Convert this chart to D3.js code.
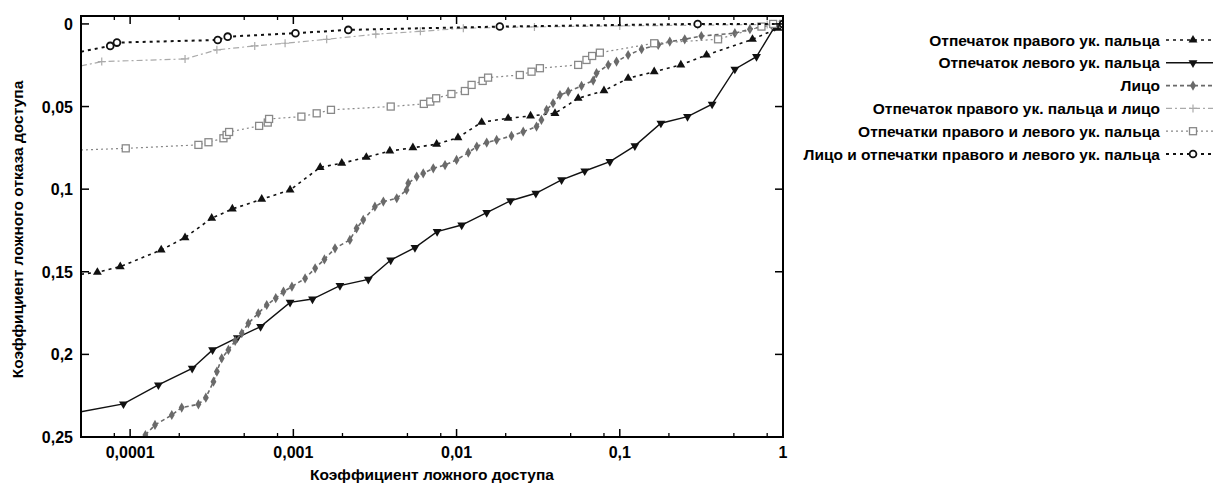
<!DOCTYPE html>
<html>
<head>
<meta charset="utf-8">
<script src="https://d3js.org/d3.v7.min.js"></script>
<style>
  body { margin: 0; background: #fff; }
  svg { font-family: 'Liberation Sans', Arial, sans-serif; font-weight: bold; }
</style>
</head>
<body>
<div id="chart"></div>
<script>
// x: коэффициент ложного доступа, y: коэффициент ложного отказа доступа
var rightFinger = [[5e-5,0.1515],[6.3e-5,0.1503],[8.7e-5,0.1469],[1.55e-4,0.1368],[2.17e-4,0.1293],[3.16e-4,0.1176],
  [4.23e-4,0.112],[6.4e-4,0.1061],[9.55e-4,0.1005],[1.46e-3,0.0868],[1.98e-3,0.0843],[2.8e-3,0.0807],[3.9e-3,0.0769],
  [5.4e-3,0.0749],[7.55e-3,0.0728],[0.0102,0.0688],[0.01425,0.0595],[0.0207,0.0571],[0.0284,0.0557],[0.0401,0.0541],
  [0.0556,0.045],[0.08,0.0404],[0.1125,0.0329],[0.1625,0.0289],[0.2367,0.0248],[0.34,0.0188],[0.65,0.0093],[0.933,0.0026],[1,0]];
var leftFinger = [[5e-5,0.2347],[9.1e-5,0.230],[1.49e-4,0.2185],[2.4e-4,0.2085],[3.2e-4,0.1973],[4.54e-4,0.1899],
  [6.3e-4,0.1832],[9.55e-4,0.1685],[1.31e-3,0.1665],[1.93e-3,0.1584],[2.88e-3,0.1546],[3.95e-3,0.1429],[5.56e-3,0.1354],
  [7.6e-3,0.1257],[0.01075,0.1217],[0.0153,0.1142],[0.0214,0.107],[0.0306,0.1025],[0.044,0.0944],[0.061,0.089],
  [0.087,0.0833],[0.1237,0.0738],[0.1786,0.0601],[0.26,0.0561],[0.368,0.0486],[0.507,0.0274],[0.688,0.0198],[0.89,0.0016],[1,0]];
var face = [[1.18e-4,0.2525],[1.24e-4,0.2488],[1.42e-4,0.2427],[1.8e-4,0.2367],[2.07e-4,0.2322],[2.62e-4,0.2302],[2.91e-4,0.2262],
  [3.24e-4,0.2165],[3.4e-4,0.2104],[3.64e-4,0.2024],[4.0e-4,0.1973],[4.4e-4,0.1919],[4.83e-4,0.1872],[5.3e-4,0.1812],
  [6.1e-4,0.1751],[6.87e-4,0.1701],[7.8e-4,0.166],[8.7e-4,0.162],[9.8e-4,0.159],[1.18e-3,0.154],[1.36e-3,0.1479],[1.55e-3,0.1425],
  [1.8e-3,0.1358],[2.22e-3,0.1307],[2.44e-3,0.1237],[2.68e-3,0.1186],[3.16e-3,0.1106],[3.56e-3,0.1075],[4.3e-3,0.1055],
  [4.94e-3,0.1005],[5.06e-3,0.0964],[5.7e-3,0.0924],[6.25e-3,0.0904],[7.2e-3,0.0874],[8.5e-3,0.0854],[0.01,0.0823],
  [0.0118,0.0779],[0.0133,0.0742],[0.0153,0.0718],[0.0176,0.0702],[0.0217,0.0678],[0.0256,0.0652],[0.0309,0.0621],
  [0.0331,0.0581],[0.0356,0.052],[0.039,0.048],[0.043,0.043],[0.0483,0.041],[0.0583,0.0375],[0.0687,0.0343],[0.072,0.0298],
  [0.085,0.0248],[0.0955,0.0228],[0.1125,0.0188],[0.136,0.0153],[0.172,0.0127],[0.2025,0.0107],[0.25,0.0093],[0.316,0.0073],
  [0.507,0.0056],[0.627,0.0032],[0.85,0.0006],[1,0]];
var rightFingerFace = [[5e-5,0.0254],[6.7e-5,0.0228],[2.17e-4,0.0212],[3.4e-4,0.0157],[5.8e-4,0.0133],[8.9e-4,0.0117],
  [1.6e-3,0.0093],[3.2e-3,0.0062],[6e-3,0.0045],[0.011,0.0026],[0.03,0.0018],[0.1,0.0012],[0.3,0.0008],[0.8,0.0003],[1,0]];
var bothFingers = [[5e-5,0.0763],[9.4e-5,0.0753],[2.62e-4,0.0732],[3.02e-4,0.0716],[3.73e-4,0.0692],[3.9e-4,0.0672],
  [4.04e-4,0.0654],[6.17e-4,0.0617],[6.97e-4,0.0597],[7.1e-4,0.0575],[1.12e-3,0.0561],[1.39e-3,0.0541],[1.7e-3,0.052],
  [3.95e-3,0.050],[6.3e-3,0.0484],[6.9e-3,0.047],[7.5e-3,0.045],[9.3e-3,0.0424],[0.01125,0.0406],[0.01236,0.0369],
  [0.01445,0.0345],[0.0156,0.0325],[0.0244,0.0309],[0.0288,0.0289],[0.0324,0.0268],[0.0556,0.0248],[0.0625,0.0218],
  [0.0677,0.0194],[0.0755,0.0174],[0.1625,0.0117],[0.40,0.0093],[0.738,0.0016],[0.87,0],[1,0]];
var faceBoth = [[5e-5,0.0168],[7.55e-5,0.0133],[8.3e-5,0.0113],[3.44e-4,0.0097],[3.96e-4,0.0077],[1.03e-3,0.0056],
  [2.17e-3,0.0036],[0.0184,0.0016],[0.30,0],[1,0]];

var seriesNames = ["Отпечаток правого ук. пальца", "Отпечаток левого ук. пальца", "Лицо",
  "Отпечаток правого ук. пальца и лицо", "Отпечатки правого и левого ук. пальца",
  "Лицо и отпечатки правого и левого ук. пальца"];
var xTicks = [1e-4, 1e-3, 1e-2, 1e-1, 1];
var xTickLabels = ["0,0001", "0,001", "0,01", "0,1", "1"];
var yTicks = [0, 0.05, 0.1, 0.15, 0.2, 0.25];
var yTickLabels = ["0", "0,05", "0,1", "0,15", "0,2", "0,25"];

var series = [
  {data: rightFinger, color: "#111", dash: "3,4", width: 1.6, marker: "triUp"},
  {data: leftFinger, color: "#111", dash: null, width: 1.4, marker: "triDown"},
  {data: face, color: "#6a6a6a", dash: "4,3", width: 1.6, marker: "dot"},
  {data: rightFingerFace, color: "#aaa", dash: "6,3,2,3", width: 1.2, marker: "plus"},
  {data: bothFingers, color: "#888", dash: "2,3", width: 1.2, marker: "square"},
  {data: faceBoth, color: "#111", dash: "3,4", width: 2, marker: "circle"}
];

var W = 1213, H = 483;
var m = {left: 81, right: 783, top: 16, bottom: 437};
var svg = d3.select("#chart").append("svg").attr("width", W).attr("height", H);

var x = d3.scaleLog().domain([5e-5, 1]).range([m.left, m.right]);
var y = d3.scaleLinear().domain([-0.0048, 0.25]).range([m.top, m.bottom]);

svg.append("clipPath").attr("id", "clip").append("rect")
  .attr("x", m.left).attr("y", m.top).attr("width", m.right - m.left).attr("height", m.bottom - m.top);

function drawMarker(g, type, cx, cy, color) {
  if (type === "triUp") {
    g.append("path").attr("d", d3.symbol(d3.symbolTriangle, 34)()).attr("transform", "translate(" + cx + "," + cy + ")").attr("fill", color);
  } else if (type === "triDown") {
    g.append("path").attr("d", d3.symbol(d3.symbolTriangle, 34)()).attr("transform", "translate(" + cx + "," + cy + ") rotate(180)").attr("fill", color);
  } else if (type === "dot") {
    g.append("path").attr("d", d3.symbol(d3.symbolDiamond, 30)()).attr("transform", "translate(" + cx + "," + cy + ")").attr("fill", color);
  } else if (type === "plus") {
    g.append("path").attr("d", "M-4,0H4M0,-4V4").attr("transform", "translate(" + cx + "," + cy + ")").attr("stroke", color).attr("stroke-width", 1.2);
  } else if (type === "square") {
    g.append("rect").attr("x", cx - 3.5).attr("y", cy - 3.5).attr("width", 7).attr("height", 7)
      .attr("fill", "#fff").attr("stroke", color).attr("stroke-width", 1.3);
  } else if (type === "circle") {
    g.append("circle").attr("cx", cx).attr("cy", cy).attr("r", 3.4)
      .attr("fill", "#fff").attr("stroke", color).attr("stroke-width", 1.8);
  }
}

var line = d3.line().x(d => x(d[0])).y(d => y(d[1]));
var plot = svg.append("g").attr("clip-path", "url(#clip)");
series.forEach(function(s) {
  plot.append("path").attr("d", line(s.data)).attr("fill", "none")
    .attr("stroke", s.color).attr("stroke-width", s.width).attr("stroke-dasharray", s.dash);
  var mg = plot.append("g");
  s.data.forEach(function(d) {
    if (d[0] <= 5e-5) return;
    drawMarker(mg, s.marker, x(d[0]), y(d[1]), s.color);
  });
});

// frame
svg.append("rect").attr("x", m.left).attr("y", m.top).attr("width", m.right - m.left).attr("height", m.bottom - m.top)
  .attr("fill", "none").attr("stroke", "#000").attr("stroke-width", 2);

// ticks
var minor = [];
[-5, -4, -3, -2, -1].forEach(function(e) {
  [2, 5, 8].forEach(function(k) { var v = k * Math.pow(10, e); if (v > 5e-5 && v < 1) minor.push(v); });
});
var tg = svg.append("g").attr("stroke", "#000");
xTicks.forEach(function(v) {
  tg.append("line").attr("x1", x(v)).attr("x2", x(v)).attr("y1", m.bottom).attr("y2", m.bottom - 8).attr("stroke-width", 1.5);
  tg.append("line").attr("x1", x(v)).attr("x2", x(v)).attr("y1", m.top).attr("y2", m.top + 8).attr("stroke-width", 1.5);
});
minor.forEach(function(v) {
  tg.append("line").attr("x1", x(v)).attr("x2", x(v)).attr("y1", m.bottom).attr("y2", m.bottom - 4).attr("stroke-width", 1.3);
  tg.append("line").attr("x1", x(v)).attr("x2", x(v)).attr("y1", m.top).attr("y2", m.top + 4).attr("stroke-width", 1.3);
});
yTicks.forEach(function(v) {
  tg.append("line").attr("x1", m.left).attr("x2", m.left + 8).attr("y1", y(v)).attr("y2", y(v)).attr("stroke-width", 1.5);
  tg.append("line").attr("x1", m.right).attr("x2", m.right - 8).attr("y1", y(v)).attr("y2", y(v)).attr("stroke-width", 1.5);
});

// tick labels
xTicks.forEach(function(v, i) {
  svg.append("text").attr("x", x(v)).attr("y", 458).attr("text-anchor", "middle")
    .attr("font-size", 16).text(xTickLabels[i]);
});
yTicks.forEach(function(v, i) {
  svg.append("text").attr("x", 73).attr("y", y(v) + 6).attr("text-anchor", "end")
    .attr("font-size", 16).text(yTickLabels[i]);
});

svg.append("text").attr("x", (m.left + m.right) / 2).attr("y", 480).attr("text-anchor", "middle")
  .attr("font-size", 15.5).text("Коэффициент ложного доступа");
svg.append("text").attr("transform", "translate(23," + ((m.top + m.bottom) / 2 + 3) + ") rotate(-90)")
  .attr("text-anchor", "middle").attr("font-size", 15.5).text("Коэффициент ложного отказа доступа");

// legend
var lg = svg.append("g");
seriesNames.forEach(function(name, i) {
  var ly = 40 + i * 22.8;
  lg.append("text").attr("x", 1160).attr("y", ly + 5.5).attr("text-anchor", "end").attr("font-size", 15.5).text(name);
  var s = series[i];
  lg.append("line").attr("x1", 1166).attr("x2", 1213).attr("y1", ly).attr("y2", ly)
    .attr("stroke", s.color).attr("stroke-width", s.width).attr("stroke-dasharray", s.dash);
  drawMarker(lg, s.marker, 1193, ly, s.color);
});
</script>
</body>
</html>
